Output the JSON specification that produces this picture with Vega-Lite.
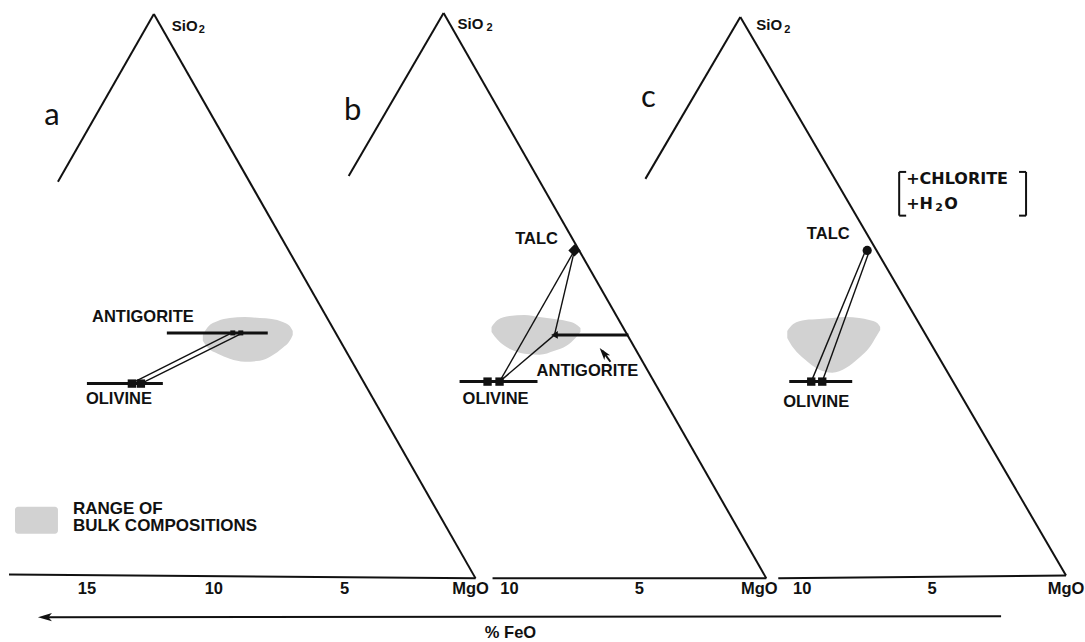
{
  "$schema": "https://vega.github.io/schema/vega-lite/v6.json",
  "width": 1085,
  "height": 642,
  "autosize": {"type": "fit", "contains": "padding"},
  "padding": 0,
  "background": "white",
  "config": {"view": {"stroke": null}, "text": {"font": "Liberation Sans"}},
  "datasets": {
    "blobs": [
      {"blob": "a", "x": 203, "y": 337, "y2": 343},
      {"blob": "a", "x": 208, "y": 329, "y2": 350},
      {"blob": "a", "x": 218, "y": 323, "y2": 356},
      {"blob": "a", "x": 230, "y": 320, "y2": 361},
      {"blob": "a", "x": 245, "y": 319, "y2": 364},
      {"blob": "a", "x": 260, "y": 320, "y2": 363},
      {"blob": "a", "x": 272, "y": 321, "y2": 358},
      {"blob": "a", "x": 283, "y": 324, "y2": 350},
      {"blob": "a", "x": 290, "y": 328, "y2": 343},
      {"blob": "a", "x": 293, "y": 333, "y2": 337},
      {"blob": "b", "x": 492, "y": 329, "y2": 334},
      {"blob": "b", "x": 498, "y": 322, "y2": 342},
      {"blob": "b", "x": 510, "y": 318, "y2": 351},
      {"blob": "b", "x": 525, "y": 317, "y2": 356},
      {"blob": "b", "x": 540, "y": 319, "y2": 357},
      {"blob": "b", "x": 555, "y": 321, "y2": 353},
      {"blob": "b", "x": 567, "y": 323, "y2": 348},
      {"blob": "b", "x": 576, "y": 326, "y2": 340},
      {"blob": "b", "x": 581, "y": 330, "y2": 334},
      {"blob": "c", "x": 788, "y": 333, "y2": 340},
      {"blob": "c", "x": 794, "y": 326, "y2": 350},
      {"blob": "c", "x": 806, "y": 322, "y2": 362},
      {"blob": "c", "x": 820, "y": 321, "y2": 372},
      {"blob": "c", "x": 833, "y": 320, "y2": 375},
      {"blob": "c", "x": 847, "y": 319, "y2": 370},
      {"blob": "c", "x": 860, "y": 320, "y2": 360},
      {"blob": "c", "x": 870, "y": 322, "y2": 350},
      {"blob": "c", "x": 878, "y": 325, "y2": 337},
      {"blob": "c", "x": 881, "y": 329, "y2": 332}
    ],
    "patch": [{"x": 15, "y": 510, "x2": 58, "y2": 537}],
    "frame": [
      {"x": 154, "y": 14, "x2": 58, "y2": 183},
      {"x": 154, "y": 14, "x2": 476, "y2": 582},
      {"x": 9, "y": 578, "x2": 476, "y2": 582},
      {"x": 444, "y": 13, "x2": 349, "y2": 177},
      {"x": 444, "y": 13, "x2": 767, "y2": 582},
      {"x": 493, "y": 582, "x2": 767, "y2": 582},
      {"x": 741, "y": 17, "x2": 646, "y2": 180},
      {"x": 741, "y": 17, "x2": 1067, "y2": 579},
      {"x": 779, "y": 582, "x2": 1067, "y2": 579},
      {"x": 44, "y": 621, "x2": 1002, "y2": 620},
      {"x": 611, "y": 364, "x2": 603, "y2": 353},
      {"x": 900, "y": 173, "x2": 900, "y2": 217},
      {"x": 900, "y": 173, "x2": 907, "y2": 173},
      {"x": 900, "y": 217, "x2": 907, "y2": 217},
      {"x": 1027, "y": 173, "x2": 1027, "y2": 217},
      {"x": 1020, "y": 173, "x2": 1027, "y2": 173},
      {"x": 1020, "y": 217, "x2": 1027, "y2": 217}
    ],
    "phases": [
      {"x": 167, "y": 335, "x2": 268, "y2": 335},
      {"x": 87, "y": 386, "x2": 163, "y2": 386},
      {"x": 555, "y": 337, "x2": 629, "y2": 337},
      {"x": 460, "y": 384, "x2": 538, "y2": 384},
      {"x": 790, "y": 384, "x2": 853, "y2": 384}
    ],
    "ties": [
      {"x": 133, "y": 385, "x2": 232, "y2": 335},
      {"x": 141, "y": 386, "x2": 241, "y2": 336},
      {"x": 500, "y": 384, "x2": 575, "y2": 252},
      {"x": 500, "y": 384, "x2": 555, "y2": 337},
      {"x": 555, "y": 337, "x2": 575, "y2": 252},
      {"x": 812, "y": 384, "x2": 866, "y2": 253},
      {"x": 823, "y": 384, "x2": 870, "y2": 253}
    ],
    "olivine": [
      {"x": 132, "y": 386}, {"x": 141, "y": 386},
      {"x": 488, "y": 384}, {"x": 500, "y": 384},
      {"x": 812, "y": 384}, {"x": 823, "y": 384}
    ],
    "talc": [
      {"panel": "b", "x": 575, "y": 252},
      {"panel": "c", "x": 868, "y": 252}
    ],
    "antigorite": [
      {"panel": "a", "x": 233, "y": 335},
      {"panel": "a", "x": 241, "y": 335},
      {"panel": "b", "x": 555, "y": 337}
    ],
    "heads": [
      {"arrow": "feo", "x": 45, "y": 621},
      {"arrow": "antigorite", "x": 604, "y": 355}
    ],
    "texts": [
      {"kind": "panel", "label": "a", "x": 52, "y": 126},
      {"kind": "panel", "label": "b", "x": 353, "y": 121},
      {"kind": "panel", "label": "c", "x": 649, "y": 108},
      {"kind": "oxide", "label": "SiO", "x": 172, "y": 26},
      {"kind": "oxide", "label": "SiO", "x": 458, "y": 24},
      {"kind": "oxide", "label": "SiO", "x": 757, "y": 25},
      {"kind": "sub", "label": "2", "x": 199, "y": 30},
      {"kind": "sub", "label": "2", "x": 487, "y": 28},
      {"kind": "sub", "label": "2", "x": 785, "y": 30},
      {"kind": "mineral", "label": "ANTIGORITE", "x": 143, "y": 319},
      {"kind": "mineral", "label": "OLIVINE", "x": 119, "y": 402},
      {"kind": "mineral", "label": "TALC", "x": 537, "y": 240},
      {"kind": "mineral", "label": "ANTIGORITE", "x": 588, "y": 373},
      {"kind": "mineral", "label": "OLIVINE", "x": 496, "y": 402},
      {"kind": "mineral", "label": "TALC", "x": 829, "y": 235},
      {"kind": "mineral", "label": "OLIVINE", "x": 817, "y": 405},
      {"kind": "tick", "label": "15", "x": 87, "y": 593},
      {"kind": "tick", "label": "10", "x": 214, "y": 593},
      {"kind": "tick", "label": "5", "x": 345, "y": 593},
      {"kind": "tick", "label": "MgO", "x": 471, "y": 593},
      {"kind": "tick", "label": "10", "x": 510, "y": 593},
      {"kind": "tick", "label": "5", "x": 640, "y": 593},
      {"kind": "tick", "label": "MgO", "x": 760, "y": 593},
      {"kind": "tick", "label": "10", "x": 803, "y": 593},
      {"kind": "tick", "label": "5", "x": 933, "y": 593},
      {"kind": "tick", "label": "MgO", "x": 1067, "y": 593},
      {"kind": "tick", "label": "%  FeO", "x": 511, "y": 637},
      {"kind": "legend", "label": "RANGE OF", "x": 73, "y": 512},
      {"kind": "legend", "label": "BULK COMPOSITIONS", "x": 73, "y": 529},
      {"kind": "extra", "label": "+CHLORITE", "x": 907, "y": 180},
      {"kind": "extra", "label": "+H", "x": 907, "y": 205},
      {"kind": "extra", "label": "O", "x": 945, "y": 205},
      {"kind": "extrasub", "label": "2", "x": 936, "y": 209}
    ]
  },
  "encoding": {
    "x": {"field": "x", "type": "quantitative", "axis": null, "scale": {"domain": [0, 1085], "nice": false, "zero": false}},
    "y": {"field": "y", "type": "quantitative", "axis": null, "scale": {"domain": [0, 642], "nice": false, "zero": false, "reverse": true}}
  },
  "layer": [
    {
      "data": {"name": "blobs"},
      "mark": {"type": "area", "interpolate": "monotone", "color": "#d2d2d2", "opacity": 1},
      "encoding": {"y2": {"field": "y2"}, "detail": {"field": "blob"}}
    },
    {
      "data": {"name": "patch"},
      "mark": {"type": "rect", "color": "#d2d2d2", "cornerRadius": 3},
      "encoding": {"x2": {"field": "x2"}, "y2": {"field": "y2"}}
    },
    {
      "data": {"name": "frame"},
      "mark": {"type": "rule", "color": "#111111", "strokeWidth": 2},
      "encoding": {"x2": {"field": "x2"}, "y2": {"field": "y2"}}
    },
    {
      "data": {"name": "phases"},
      "mark": {"type": "rule", "color": "#111111", "strokeWidth": 3},
      "encoding": {"x2": {"field": "x2"}, "y2": {"field": "y2"}}
    },
    {
      "data": {"name": "ties"},
      "mark": {"type": "rule", "color": "#111111", "strokeWidth": 1.4},
      "encoding": {"x2": {"field": "x2"}, "y2": {"field": "y2"}}
    },
    {
      "data": {"name": "olivine"},
      "mark": {"type": "point", "shape": "square", "filled": true, "color": "#111111", "opacity": 1, "size": 70}
    },
    {
      "data": {"name": "talc"},
      "transform": [{"filter": "datum.panel === 'b'"}],
      "mark": {"type": "point", "shape": "diamond", "filled": true, "color": "#111111", "opacity": 1, "size": 150}
    },
    {
      "data": {"name": "talc"},
      "transform": [{"filter": "datum.panel === 'c'"}],
      "mark": {"type": "point", "shape": "circle", "filled": true, "color": "#111111", "opacity": 1, "size": 85}
    },
    {
      "data": {"name": "antigorite"},
      "transform": [{"filter": "datum.panel === 'a'"}],
      "mark": {"type": "point", "shape": "square", "filled": true, "color": "#111111", "opacity": 1, "size": 25}
    },
    {
      "data": {"name": "antigorite"},
      "transform": [{"filter": "datum.panel === 'b'"}],
      "mark": {"type": "point", "shape": "triangle-left", "filled": true, "color": "#111111", "opacity": 1, "size": 60}
    },
    {
      "data": {"name": "heads"},
      "transform": [{"filter": "datum.arrow === 'feo'"}],
      "mark": {"type": "point", "shape": "M -1 0 L 1 -0.6 L 0.5 0 L 1 0.6 Z", "filled": true, "color": "#111111", "opacity": 1, "size": 196}
    },
    {
      "data": {"name": "heads"},
      "transform": [{"filter": "datum.arrow === 'antigorite'"}],
      "mark": {"type": "point", "shape": "M 0 -1 L 0.6 1 L 0 0.5 L -0.6 1 Z", "filled": true, "color": "#111111", "opacity": 1, "size": 150, "angle": 322}
    },
    {
      "data": {"name": "texts"},
      "transform": [{"filter": "datum.kind === 'panel'"}],
      "mark": {"type": "text", "font": "Lato", "fontSize": 31, "fontWeight": "normal", "align": "center", "baseline": "alphabetic", "color": "#111111"},
      "encoding": {"text": {"field": "label"}}
    },
    {
      "data": {"name": "texts"},
      "transform": [{"filter": "datum.kind === 'oxide'"}],
      "mark": {"type": "text", "fontSize": 15, "fontWeight": "bold", "align": "left", "baseline": "middle", "color": "#111111"},
      "encoding": {"text": {"field": "label"}}
    },
    {
      "data": {"name": "texts"},
      "transform": [{"filter": "datum.kind === 'sub'"}],
      "mark": {"type": "text", "fontSize": 11, "fontWeight": "bold", "align": "left", "baseline": "middle", "color": "#111111"},
      "encoding": {"text": {"field": "label"}}
    },
    {
      "data": {"name": "texts"},
      "transform": [{"filter": "datum.kind === 'mineral' || datum.kind === 'tick'"}],
      "mark": {"type": "text", "fontSize": 16.5, "fontWeight": "bold", "align": "center", "baseline": "middle", "color": "#111111"},
      "encoding": {"text": {"field": "label"}}
    },
    {
      "data": {"name": "texts"},
      "transform": [{"filter": "datum.kind === 'legend'"}],
      "mark": {"type": "text", "fontSize": 17, "fontWeight": "bold", "align": "left", "baseline": "middle", "color": "#111111"},
      "encoding": {"text": {"field": "label"}}
    },
    {
      "data": {"name": "texts"},
      "transform": [{"filter": "datum.kind === 'extra'"}],
      "mark": {"type": "text", "font": "DejaVu Sans", "fontSize": 16, "fontWeight": "bold", "align": "left", "baseline": "middle", "color": "#111111"},
      "encoding": {"text": {"field": "label"}}
    },
    {
      "data": {"name": "texts"},
      "transform": [{"filter": "datum.kind === 'extrasub'"}],
      "mark": {"type": "text", "font": "DejaVu Sans", "fontSize": 11, "fontWeight": "bold", "align": "left", "baseline": "middle", "color": "#111111"},
      "encoding": {"text": {"field": "label"}}
    }
  ]
}
